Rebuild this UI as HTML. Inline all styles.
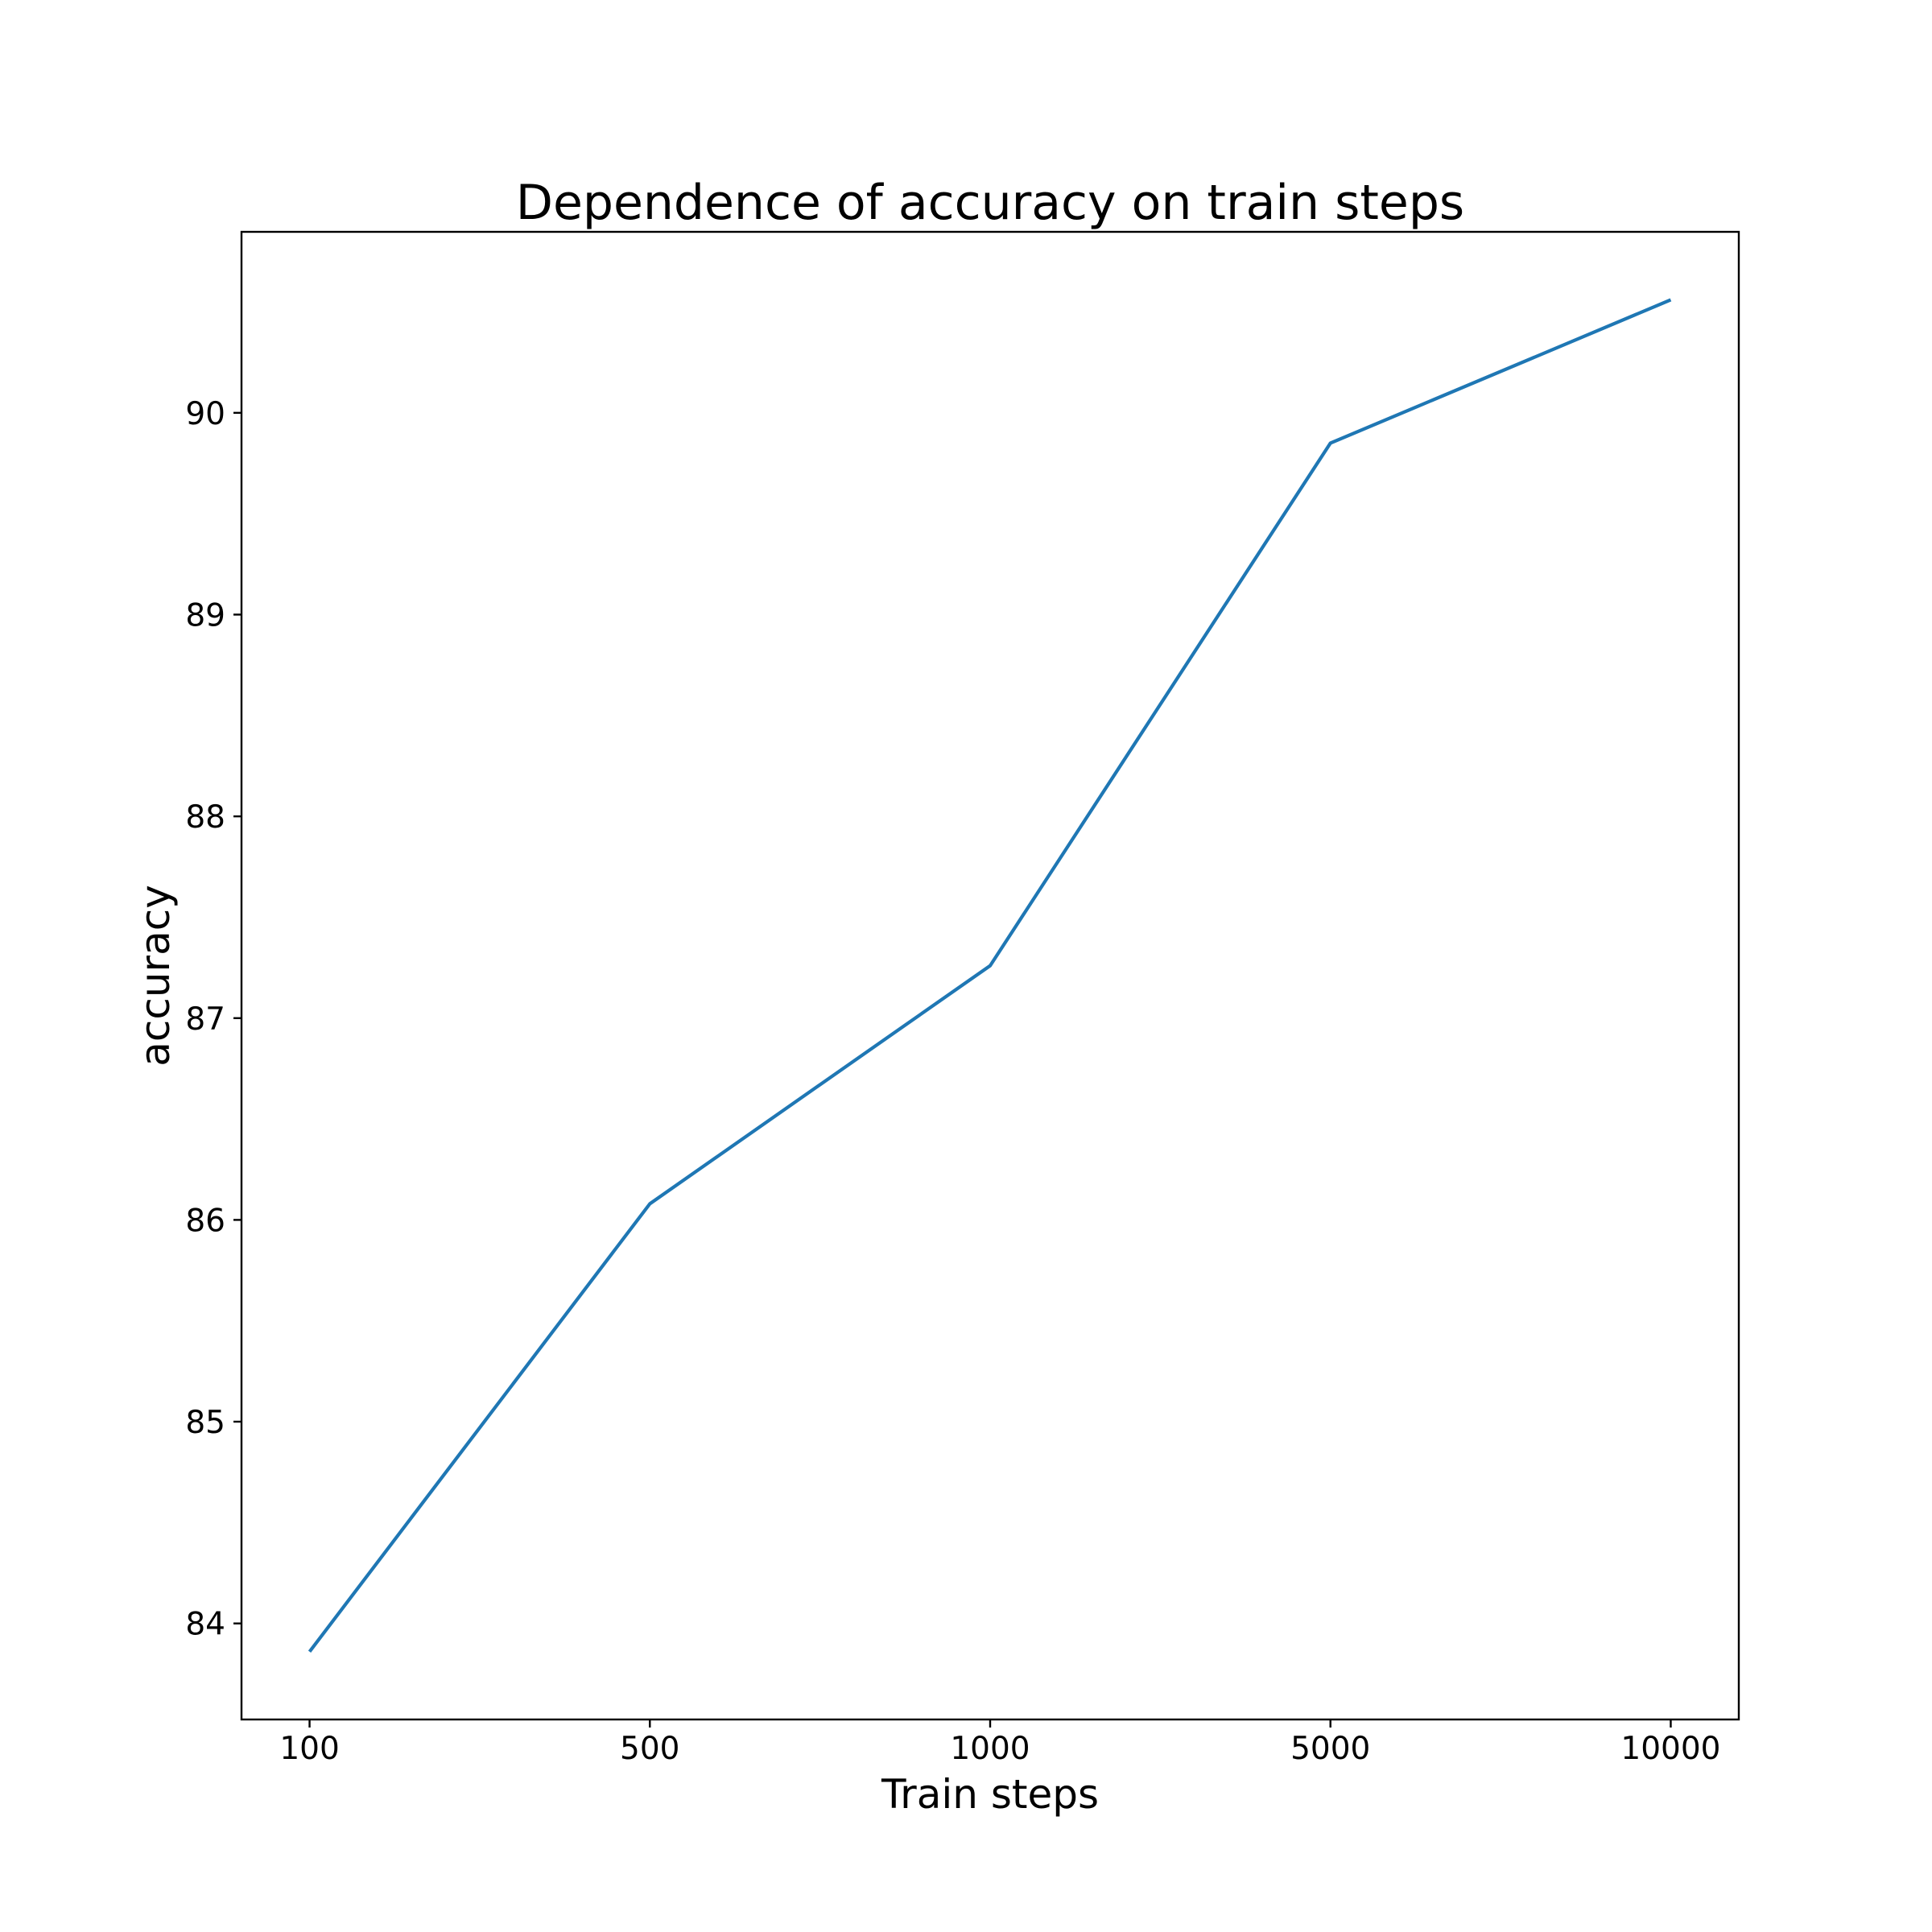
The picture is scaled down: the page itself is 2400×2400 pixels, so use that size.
<!DOCTYPE html>
<html><head><meta charset="utf-8"><style>
html,body{margin:0;padding:0;background:#fff;}
svg{display:block;font-family:"DejaVu Sans","Liberation Sans",sans-serif;}
</style></head><body>
<svg id="chart" width="2400" height="2400" viewBox="0 0 2400 2400" xmlns="http://www.w3.org/2000/svg">
<rect width="2400" height="2400" fill="#fff"/>
<text x="1230" y="272" font-size="60" text-anchor="middle">Dependence of accuracy on train steps</text>
<g id="plot"></g>
<rect x="300" y="288" width="1860" height="1848" fill="none" stroke="#000" stroke-width="2.4"/>
<text x="1230" y="2246" font-size="50" text-anchor="middle">Train steps</text>
<text transform="translate(210,1212) rotate(-90)" font-size="50" text-anchor="middle">accuracy</text>
</svg>
<script>
const categories = ["100","500","1000","5000","10000"];
const accuracy = [83.86, 86.08, 87.26, 89.85, 90.56];
const yTicks = [84, 85, 86, 87, 88, 89, 90];
const L=300,R=2160,T=288,B=2136;
const xMin=-0.2,xMax=categories.length-1+0.2;
const yMin=83.524,yMax=90.897;
const xs=i=>L+(i-xMin)/(xMax-xMin)*(R-L);
const ys=v=>B-(v-yMin)/(yMax-yMin)*(B-T);
const NS="http://www.w3.org/2000/svg";
const g=document.getElementById('plot');
function mk(t,a){const e=document.createElementNS(NS,t);for(const k in a)e.setAttribute(k,a[k]);g.appendChild(e);return e;}
categories.forEach((c,i)=>{
  const x=xs(i);
  const tk=mk('line',{x1:x,x2:x,y1:B,y2:B+10,stroke:'#000','stroke-width':2.4});
  
  
  const t=mk('text',{x:x,y:2185,'font-size':39,'text-anchor':'middle'});
  t.textContent=c;
  
  
});
yTicks.forEach(v=>{
  const y=ys(v);
  const tk=mk('line',{x1:L-10,x2:L,y1:y,y2:y,stroke:'#000','stroke-width':2.4});
  
  
  const t=mk('text',{x:L-20,y:y+14,'font-size':39,'text-anchor':'end'});
  t.textContent=v;
  
  
});
const pts=accuracy.map((v,i)=>xs(i)+','+ys(v)).join(' ');
const line=mk('polyline',{points:pts,fill:'none',stroke:'#1f77b4','stroke-width':4.2,'stroke-linejoin':'round','stroke-linecap':'butt'});


</script>
</body></html>
